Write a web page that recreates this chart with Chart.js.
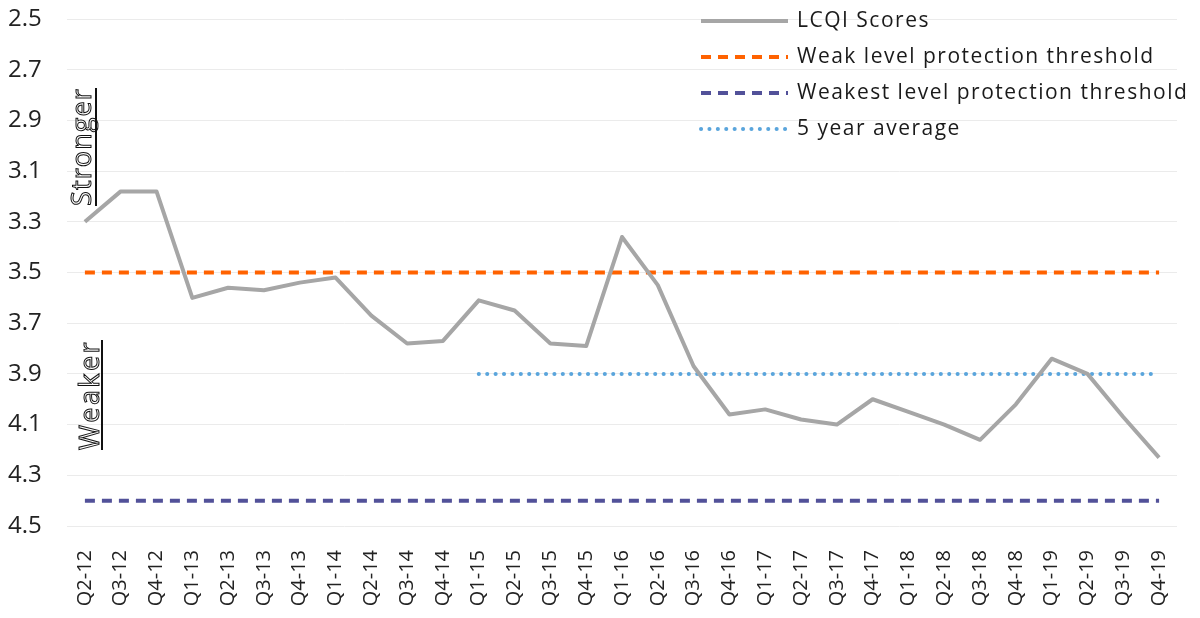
<!DOCTYPE html>
<html>
<head>
<meta charset="utf-8">
<script src="https://cdn.jsdelivr.net/npm/chart.js@4.4.1/dist/chart.umd.min.js"></script>
<style>
html,body{margin:0;padding:0;background:#fff;}
#wrap{width:1200px;height:618px;position:relative;}
</style>
</head>
<body>
<div id="wrap"><canvas id="c" width="1200" height="618"></canvas></div>
<script>
const categories = ["Q2-12","Q3-12","Q4-12","Q1-13","Q2-13","Q3-13","Q4-13","Q1-14","Q2-14","Q3-14","Q4-14","Q1-15","Q2-15","Q3-15","Q4-15","Q1-16","Q2-16","Q3-16","Q4-16","Q1-17","Q2-17","Q3-17","Q4-17","Q1-18","Q2-18","Q3-18","Q4-18","Q1-19","Q2-19","Q3-19","Q4-19"];
const lcqiScores = [3.30,3.18,3.18,3.60,3.56,3.57,3.54,3.52,3.67,3.78,3.77,3.61,3.65,3.78,3.79,3.36,3.55,3.87,4.06,4.04,4.08,4.10,4.00,4.05,4.10,4.16,4.02,3.84,3.90,4.07,4.23];
const weakThreshold = categories.map(() => 3.5);
const weakestThreshold = categories.map(() => 4.4);
const fiveYearAverage = [null,null,null,null,null,null,null,null,null,null,null,3.9,3.9,3.9,3.9,3.9,3.9,3.9,3.9,3.9,3.9,3.9,3.9,3.9,3.9,3.9,3.9,3.9,3.9,3.9,3.9];
const yTicks = [2.5,2.7,2.9,3.1,3.3,3.5,3.7,3.9,4.1,4.3,4.5];
const sideLabels = ["Stronger","Weaker"];

const FONT = "'Open Sans', 'Noto Sans', sans-serif";

const legendPlugin = {
  id: 'customLegend',
  afterDraw(chart) {
    const ctx = chart.ctx;
    const x0 = 701, x1 = 788, tx = 797;
    const rows = [21, 57, 93, 129];
    chart.data.datasets.forEach((ds, i) => {
      const y = rows[i];
      ctx.save();
      ctx.beginPath();
      ctx.strokeStyle = ds.borderColor;
      ctx.lineWidth = ds.borderWidth;
      ctx.lineCap = ds.borderCapStyle || 'butt';
      ctx.setLineDash(ds.borderDash || []);
      ctx.moveTo(x0, y);
      ctx.lineTo(x1, y);
      ctx.stroke();
      ctx.setLineDash([]);
      ctx.fillStyle = '#1a1a1a';
      ctx.font = "21px " + FONT;
      ctx.letterSpacing = '1.5px';
      ctx.textBaseline = 'middle';
      ctx.textAlign = 'left';
      ctx.fillText(ds.label, tx, y);
      ctx.restore();
    });
  }
};

const sidePlugin = {
  id: 'sideLabels',
  afterDraw(chart) {
    const ctx = chart.ctx;
    const items = [
      {text: sideLabels[0], baseX: 91, startY: 206, endY: 88, lineX: 96},
      {text: sideLabels[1], baseX: 99, startY: 450, endY: 340, lineX: 102}
    ];
    items.forEach(it => {
      ctx.save();
      ctx.translate(it.baseX, it.startY);
      ctx.rotate(-Math.PI / 2);
      ctx.font = "27px " + FONT;
      ctx.textBaseline = 'alphabetic';
      ctx.textAlign = 'left';
      const target = it.startY - it.endY;
      const w0 = ctx.measureText(it.text).width;
      const sp = Math.max(0, (target - w0) / it.text.length);
      ctx.letterSpacing = sp.toFixed(2) + 'px';
      ctx.fillStyle = '#ffffff';
      ctx.fillText(it.text, 0, 0);
      ctx.strokeStyle = '#111';
      ctx.lineWidth = 1;
      ctx.strokeText(it.text, 0, 0);
      ctx.fillStyle = '#111';
      ctx.fillRect(0, it.lineX - it.baseX - 1, target, 2);
      ctx.restore();
    });
  }
};

new Chart(document.getElementById('c'), {
  type: 'line',
  data: {
    labels: categories,
    datasets: [
      {label: 'LCQI Scores', data: lcqiScores, borderColor: '#a6a6a6', borderWidth: 4, pointRadius: 0, tension: 0, borderCapStyle: 'butt', borderJoinStyle: 'round'},
      {label: 'Weak level protection threshold', data: weakThreshold, borderColor: '#ff6200', borderWidth: 4, borderDash: [10, 7], pointRadius: 0, borderCapStyle: 'butt'},
      {label: 'Weakest level protection threshold', data: weakestThreshold, borderColor: '#525199', borderWidth: 4, borderDash: [10, 7], pointRadius: 0, borderCapStyle: 'butt'},
      {label: '5 year average', data: fiveYearAverage, borderColor: '#5aa5dc', borderWidth: 4, borderDash: [0.1, 8.3], pointRadius: 0, borderCapStyle: 'round', spanGaps: false}
    ]
  },
  options: {
    responsive: false,
    animation: false,
    layout: {padding: {top: 19, right: 23, left: 8, bottom: 0}},
    plugins: {legend: {display: false}, tooltip: {enabled: false}},
    scales: {
      y: {
        reverse: true,
        min: 2.5,
        max: 4.5,
        afterBuildTicks(scale) { scale.ticks = yTicks.map(v => ({value: v})); },
        afterFit(scale) { scale.width = 59; },
        border: {display: false},
        grid: {color: '#ebebeb', lineWidth: 1, drawTicks: false},
        ticks: {
          color: '#222',
          font: {family: FONT, size: 24},
          padding: 0,
          crossAlign: 'far',
          callback: v => Number(v).toFixed(1)
        }
      },
      x: {
        offset: true,
        afterFit(scale) { scale.height = 92; },
        border: {display: false},
        grid: {display: false},
        ticks: {
          color: '#222',
          font: {family: FONT, size: 20},
          minRotation: 90,
          maxRotation: 90,
          padding: 16,
          autoSkip: false
        }
      }
    }
  },
  plugins: [legendPlugin, sidePlugin]
});
</script>
</body>
</html>
